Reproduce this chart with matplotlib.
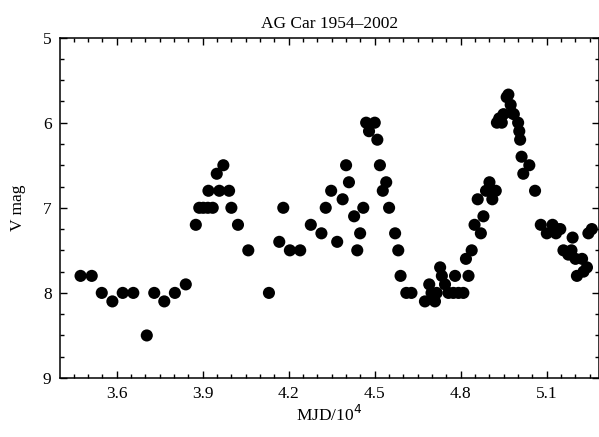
import matplotlib.pyplot as plt
from matplotlib.ticker import MultipleLocator

plt.rcParams['font.family'] = ['Liberation Serif', 'DejaVu Serif']

# AG Car light curve, MJD in units of 10^4 days
mjd = [3.474, 3.513, 3.548, 3.585, 3.621, 3.658, 3.705, 3.731, 3.766, 3.803,
       3.841, 3.876, 3.888, 3.902, 3.918, 3.935, 3.920, 3.949, 3.958, 3.972,
       3.992, 4.000, 4.023, 4.059, 4.131, 4.167, 4.181, 4.204, 4.240, 4.277,
       4.314, 4.329, 4.348, 4.369, 4.388, 4.400, 4.410, 4.428, 4.439, 4.449,
       4.460, 4.470, 4.480, 4.500, 4.509, 4.518, 4.528, 4.540, 4.550, 4.571,
       4.582, 4.590, 4.610, 4.628, 4.675, 4.690, 4.698, 4.710, 4.716, 4.728,
       4.734, 4.745, 4.757, 4.774, 4.780, 4.792, 4.809, 4.818, 4.827, 4.838,
       4.848, 4.859, 4.870, 4.879, 4.888, 4.900, 4.910, 4.922, 4.926, 4.934,
       4.937, 4.943, 4.949, 4.960, 4.966, 4.974, 4.980, 4.985, 5.000, 5.004,
       5.007, 5.012, 5.018, 5.039, 5.059, 5.079, 5.100, 5.120, 5.132, 5.135,
       5.147, 5.158, 5.175, 5.186, 5.190, 5.200, 5.205, 5.223, 5.228, 5.240,
       5.245, 5.257]
vmag = [7.80, 7.80, 8.00, 8.10, 8.00, 8.00, 8.50, 8.00, 8.10, 8.00,
        7.90, 7.20, 7.00, 7.00, 7.00, 7.00, 6.80, 6.60, 6.80, 6.50,
        6.80, 7.00, 7.20, 7.50, 8.00, 7.40, 7.00, 7.50, 7.50, 7.20,
        7.30, 7.00, 6.80, 7.40, 6.90, 6.50, 6.70, 7.10, 7.50, 7.30,
        7.00, 6.00, 6.10, 6.00, 6.20, 6.50, 6.80, 6.70, 7.00, 7.30,
        7.50, 7.80, 8.00, 8.00, 8.10, 7.90, 8.00, 8.10, 8.00, 7.70,
        7.80, 7.90, 8.00, 8.00, 7.80, 8.00, 8.00, 7.60, 7.80, 7.50,
        7.20, 6.90, 7.30, 7.10, 6.80, 6.70, 6.90, 6.80, 6.00, 5.95,
        5.97, 6.00, 5.90, 5.70, 5.67, 5.79, 5.89, 5.90, 6.00, 6.10,
        6.20, 6.40, 6.60, 6.50, 6.80, 7.20, 7.30, 7.20, 7.30, 7.25,
        7.25, 7.50, 7.55, 7.50, 7.35, 7.60, 7.80, 7.60, 7.75, 7.70,
        7.30, 7.25]

fig = plt.figure(figsize=(5.99, 4.37), dpi=100)
ax = fig.add_axes([0.1, 0.135, 0.9, 0.779])

ax.scatter(mjd, vmag, s=76, color='black', edgecolors='none')

ax.set_xlim(3.402, 5.282)
ax.set_ylim(9, 5)
ax.xaxis.set_major_locator(MultipleLocator(0.3))
ax.xaxis.set_minor_locator(MultipleLocator(0.05))
ax.yaxis.set_major_locator(MultipleLocator(1))
ax.yaxis.set_minor_locator(MultipleLocator(0.25))
ax.tick_params(which='both', direction='in', top=True, right=True,
               labelsize=12.5, width=1, pad=6)
ax.tick_params(which='major', length=5)
ax.tick_params(which='minor', length=3)
for s in ax.spines.values():
    s.set_linewidth(1.1)

ax.set_title('AG Car 1954\u20132002', fontsize=12.5, pad=7)
ax.set_xlabel('MJD/10$^4$', fontsize=12.5, labelpad=2)
ax.set_ylabel('V mag', fontsize=12.5, labelpad=12)

fig.savefig('out.png', dpi=100)
